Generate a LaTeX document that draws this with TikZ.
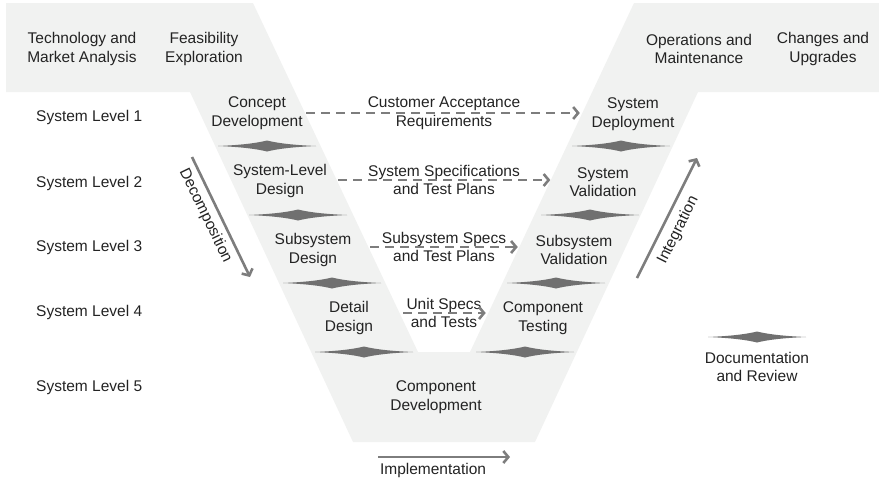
\documentclass[tikz,border=0pt]{standalone}
\usepackage{fontspec}
\setmainfont{Liberation Sans}
\usetikzlibrary{arrows.meta}
\definecolor{bandgray}{RGB}{241,242,241}
\definecolor{markgray}{RGB}{112,112,112}
\definecolor{linegray}{RGB}{125,125,125}
\definecolor{textgray}{RGB}{35,35,35}

\begin{document}
\begin{tikzpicture}[x=1pt,y=-1pt,
  lbl/.style={font=\fontsize{15.5}{18.5}\selectfont, text=textgray, align=center, inner sep=0pt},
  lvl/.style={lbl, anchor=west},
  flow/.style={draw=linegray, line width=2.6pt, -{Straight Barb[length=5pt,width=12pt]}},
  reqflow/.style={flow, dash pattern=on 9pt off 6pt},
  pics/gate/.style={code={
    \fill[markgray] (-49,0) .. controls (-25,-1) and (-10,-3) .. (0,-5.5)
      .. controls (10,-3) and (25,-1) .. (49,0)
      .. controls (25,1) and (10,3) .. (0,5.5)
      .. controls (-10,3) and (-25,1) .. (-49,0) -- cycle;}}
]
\useasboundingbox (0,0) rectangle (879,480);

% V-shaped band with the top strip
\fill[bandgray] (6,3) -- (253,3) -- (418,352) -- (470,352) -- (634,3)
  -- (879,3) -- (879,92) -- (698,92) -- (535,442) -- (353,442)
  -- (190,92) -- (6,92) -- cycle;

% top strip phases
\node[lbl] (tech) at (82,49) {Technology and\\Market Analysis};
\node[lbl] (feas) at (204,49) {Feasibility\\Exploration};
\node[lbl] (ops)  at (699,49) {Operations and\\Maintenance};
\node[lbl] (chg)  at (823,49) {Changes and\\Upgrades};

% system levels
\node[lvl] (lvl1) at (36,117) {System Level 1};
\node[lvl] (lvl2) at (36,183) {System Level 2};
\node[lvl] (lvl3) at (36,247) {System Level 3};
\node[lvl] (lvl4) at (36,312) {System Level 4};
\node[lvl] (lvl5) at (36,387) {System Level 5};

% left arm
\node[lbl] (concept) at (257,113) {Concept\\Development};
\node[lbl] (sysdes)  at (280,181) {System-Level\\Design};
\node[lbl] (subdes)  at (313,250) {Subsystem\\Design};
\node[lbl] (detdes)  at (349,318) {Detail\\Design};
% bottom
\node[lbl] (compdev) at (436,397) {Component\\Development};
% right arm
\node[lbl] (deploy)   at (633,114) {System\\Deployment};
\node[lbl] (sysval)   at (603,182) {System\\Validation};
\node[lbl] (subval)   at (574,250) {Subsystem\\Validation};
\node[lbl] (comptest) at (543,318) {Component\\Testing};

% review gates
\pic at (267,146) {gate};
\pic at (298,215) {gate};
\pic at (332,283) {gate};
\pic at (364,352) {gate};
\pic at (621,146) {gate};
\pic at (590,215) {gate};
\pic at (556,283) {gate};
\pic at (525,352) {gate};
\pic at (757,337) {gate};
\node[lbl] (doc) at (757,367) {Documentation\\and Review};

% requirement links
\node[lbl] (req1) at (444,113) {Customer Acceptance\\Requirements};
\node[lbl] (req2) at (444,180) {System Specifications\\and Test Plans};
\node[lbl] (req3) at (444,247) {Subsystem Specs\\and Test Plans};
\node[lbl] (req4) at (444,313) {Unit Specs\\and Tests};

\draw[reqflow, shorten <=3.3pt, shorten >=11.6pt] (concept.east |- req1) -- (deploy.west |- req1);
\draw[reqflow, shorten <=11pt, shorten >=19pt] (sysdes.east |- req2) -- (sysval.west |- req2);
\draw[reqflow, shorten <=18.6pt, shorten >=17.7pt] (subdes.east |- req3) -- (subval.west |- req3);
\draw[reqflow, shorten <=30pt, shorten >=17pt] (detdes.east |- req4) -- (comptest.west |- req4);

% process direction arrows
\coordinate (decA) at (192,157);
\coordinate (decB) at (250,277);
\coordinate (intA) at (637,278);
\coordinate (intB) at (697,158);
\coordinate (impA) at (378,457);
\coordinate (impB) at (510,457);

\draw[flow] (decA) -- node[lbl, pos=0.44, sloped, below=5pt] (dec) {Decomposition} (decB);
\draw[flow] (intA) -- node[lbl, pos=0.456, sloped, below=7pt] (int) {Integration} (intB);
\draw[flow] (impA) -- node[lbl, pos=0.417, below=5pt] (imp) {Implementation} (impB);
\end{tikzpicture}
\end{document}
